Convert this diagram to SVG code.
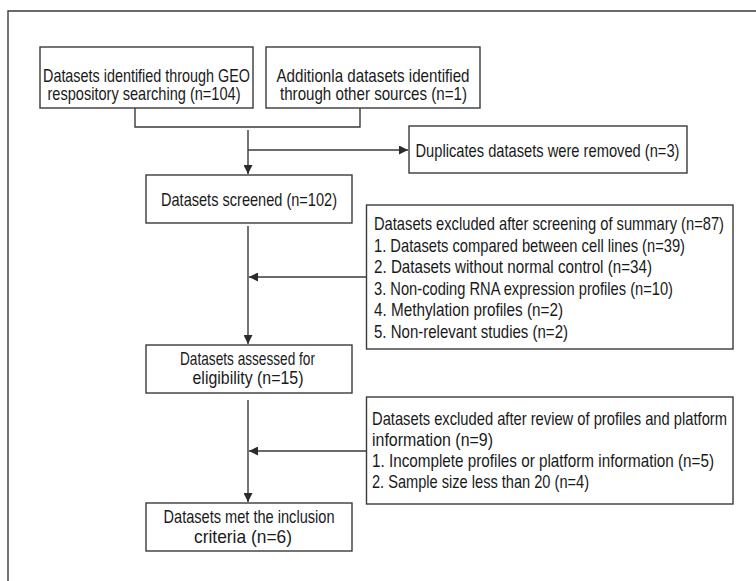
<svg xmlns="http://www.w3.org/2000/svg" width="756" height="581" viewBox="0 0 756 581">
<defs>
<marker id="ah" viewBox="0 0 10 10" refX="10" refY="5" markerWidth="9" markerHeight="9" markerUnits="userSpaceOnUse" orient="auto">
<path d="M0,0 L10,5 L0,10 Z" fill="#2b2b2b"/>
</marker>
<style>
.box{fill:#fff;stroke:#3a3a3a;stroke-width:1.4}
.ln{fill:none;stroke:#3a3a3a;stroke-width:1.4}
text{font-family:"Liberation Sans",Arial,sans-serif;font-size:18px;fill:#1a1a1a}
</style>
</defs>
<rect width="756" height="581" fill="#fff"/>
<path class="ln" d="M8,581 V11 H756"/>
<g id="connectors">
<path class="ln" d="M135,108 V127 H360 V108"/>
<path class="ln" d="M248,130 V174" marker-end="url(#ah)"/>
<path class="ln" d="M248,150 H408" marker-end="url(#ah)"/>
<path class="ln" d="M248,226 V344" marker-end="url(#ah)"/>
<path class="ln" d="M366,277 H249" marker-end="url(#ah)"/>
<path class="ln" d="M248,400 V502" marker-end="url(#ah)"/>
<path class="ln" d="M366,451 H249" marker-end="url(#ah)"/>
</g>
<g id="n1">
<rect class="box" x="40" y="47" width="213" height="61"/>
<text transform="translate(43,82) scale(0.8,1)" textLength="258.75" lengthAdjust="spacingAndGlyphs">Datasets identified through GEO</text>
<text transform="translate(47.5,100) scale(0.8,1)" textLength="241.25" lengthAdjust="spacingAndGlyphs">respository searching (n=104)</text>
</g>
<g id="n2">
<rect class="box" x="266" y="47" width="214" height="61"/>
<text transform="translate(276.5,82) scale(0.8,1)" textLength="241.25" lengthAdjust="spacingAndGlyphs">Additionla datasets identified</text>
<text transform="translate(280,100) scale(0.8,1)" textLength="233.75" lengthAdjust="spacingAndGlyphs">through other sources (n=1)</text>
</g>
<g id="n3">
<rect class="box" x="409" y="126" width="278" height="47"/>
<text transform="translate(415.5,156.5) scale(0.8,1)" textLength="330" lengthAdjust="spacingAndGlyphs">Duplicates datasets were removed (n=3)</text>
</g>
<g id="n4">
<rect class="box" x="146" y="175" width="206" height="48"/>
<text transform="translate(161,205.7) scale(0.8,1)" textLength="220" lengthAdjust="spacingAndGlyphs">Datasets screened (n=102)</text>
</g>
<g id="n5">
<rect class="box" x="366.5" y="205" width="366.5" height="144"/>
<text transform="translate(374,230) scale(0.8,1)" textLength="437.5" lengthAdjust="spacingAndGlyphs">Datasets excluded after screening of summary (n=87)</text>
<text transform="translate(374,251.5) scale(0.8,1)" textLength="388.75" lengthAdjust="spacingAndGlyphs">1. Datasets compared between cell lines (n=39)</text>
<text transform="translate(374,273) scale(0.8,1)" textLength="347.5" lengthAdjust="spacingAndGlyphs">2. Datasets without normal control (n=34)</text>
<text transform="translate(374,294.5) scale(0.8,1)" textLength="373.75" lengthAdjust="spacingAndGlyphs">3. Non-coding RNA expression profiles (n=10)</text>
<text transform="translate(374,316) scale(0.8,1)" textLength="236.25" lengthAdjust="spacingAndGlyphs">4. Methylation profiles (n=2)</text>
<text transform="translate(374,337.5) scale(0.8,1)" textLength="242.5" lengthAdjust="spacingAndGlyphs">5. Non-relevant studies (n=2)</text>
</g>
<g id="n6">
<rect class="box" x="146" y="345" width="206" height="48"/>
<text transform="translate(180,365) scale(0.8,1)" textLength="168.75" lengthAdjust="spacingAndGlyphs">Datasets assessed for</text>
<text transform="translate(192.5,384) scale(0.8,1)" textLength="138.75" lengthAdjust="spacingAndGlyphs">eligibility (n=15)</text>
</g>
<g id="n7">
<rect class="box" x="366.5" y="397" width="366.5" height="107"/>
<text transform="translate(372,425) scale(0.8,1)" textLength="443.75" lengthAdjust="spacingAndGlyphs">Datasets excluded after review of profiles and platform</text>
<text transform="translate(372,446) scale(0.8,1)" textLength="151.25" lengthAdjust="spacingAndGlyphs">information (n=9)</text>
<text transform="translate(372,467) scale(0.8,1)" textLength="427.5" lengthAdjust="spacingAndGlyphs">1. Incomplete profiles or platform information (n=5)</text>
<text transform="translate(372,488) scale(0.8,1)" textLength="271.25" lengthAdjust="spacingAndGlyphs">2. Sample size less than 20 (n=4)</text>
</g>
<g id="n8">
<rect class="box" x="146" y="503" width="206" height="48"/>
<text transform="translate(163.5,523) scale(0.8,1)" textLength="213.75" lengthAdjust="spacingAndGlyphs">Datasets met the inclusion</text>
<text transform="translate(194,543) scale(0.8,1)" textLength="122.5" lengthAdjust="spacingAndGlyphs">criteria (n=6)</text>
</g>
</svg>
